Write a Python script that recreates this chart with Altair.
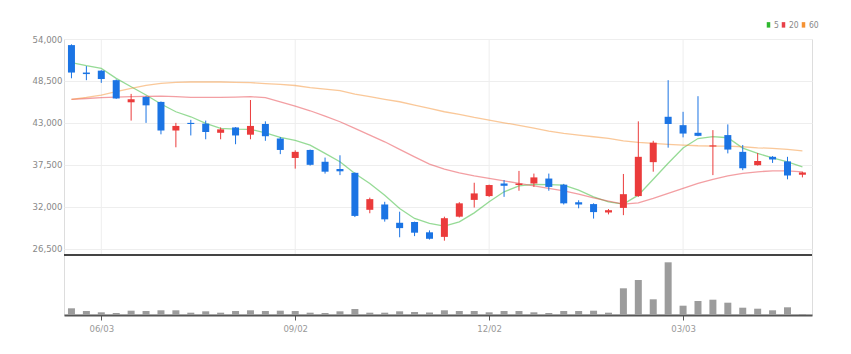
import altair as alt
import pandas as pd
from datetime import date, timedelta

FONT = "Liberation Sans Narrow, DejaVu Sans Condensed, Roboto Condensed, Roboto, sans-serif"
RED = "#eb3b3b"
BLUE = "#1b74e4"

start = date(2024, 5, 20)
dates = [(start + timedelta(weeks=i)).isoformat() + "T00:00:00" for i in range(50)]

opens = [53200, 49600, 49850, 48600, 45700, 46400, 45750, 42000, 43000, 42900,
         41700, 42400, 41450, 42850, 40950, 38400, 39450, 37900, 36950, 36450,
         31600, 32300, 29900, 30000, 28650, 28050, 30700, 32900, 33400, 35050,
         34850, 35050, 35700, 34900, 32600, 32350, 31250, 31850, 33400, 37850,
         43800, 42700, 41700, 39900, 41400, 39200, 37450, 38550, 37950, 36200]
highs = [53300, 50450, 49900, 48700, 46800, 46500, 45800, 43000, 43400, 43300,
         42400, 42450, 46000, 43200, 41150, 39400, 39500, 38450, 38750, 36500,
         33200, 32650, 31350, 30050, 28900, 30700, 32600, 35150, 34900, 35500,
         36700, 36350, 36350, 35000, 32850, 32450, 31700, 36300, 43200, 40650,
         48600, 44450, 46500, 42050, 42800, 40100, 39050, 38650, 38550, 36600]
lows = [48850, 48600, 48250, 46150, 43300, 43000, 41500, 39800, 41350, 40850,
        40850, 40200, 40850, 40650, 38900, 37000, 37400, 36350, 36150, 30650,
        31150, 30050, 28000, 28150, 27700, 27550, 30600, 31900, 33300, 33300,
        34100, 34600, 34100, 32300, 31800, 30450, 31000, 30900, 33300, 36600,
        39750, 41100, 41250, 36150, 39000, 36800, 37400, 37750, 35600, 35850]
closes = [49600, 49400, 48750, 46200, 46100, 45300, 42000, 42600, 42850, 41800,
          42150, 41350, 42600, 41250, 39450, 39200, 37500, 36600, 36650, 30800,
          33000, 30350, 29200, 28600, 27800, 30500, 32450, 33750, 34850, 34750,
          35050, 35850, 34600, 32450, 32300, 31300, 31550, 33650, 38550, 40400,
          42850, 41600, 41300, 40050, 39500, 37050, 38000, 38200, 36100, 36500]
volumes = [670, 400, 270, 200, 430, 400, 470, 470, 230, 370,
           230, 400, 470, 400, 430, 400, 230, 200, 370, 600,
           230, 230, 370, 300, 250, 470, 400, 400, 270, 400,
           400, 270, 200, 400, 400, 430, 230, 2670, 3500, 1570,
           5270, 930, 1400, 1530, 1230, 730, 630, 470, 770, 100]

ma5 = [50900, 50500, 50150, 48840, 47740, 46650, 45470, 44460, 43800, 42930,
       42280, 42190, 42150, 41700, 41100, 40700, 40090, 39000, 37900, 36370,
       35060, 33520, 31780, 30465, 29810, 29455, 30020, 31200, 32650, 33960,
       34745, 34925, 34900, 34830, 34180, 33300, 32650, 32340, 33520, 35600,
       37700, 39700, 40950, 41200, 41050, 39700, 39000, 38400, 37900, 37240]
ma20 = [46085, 46200, 46300, 46380, 46430, 46480, 46520, 46430, 46345, 46345,
        46345, 46390, 46430, 46300, 45770, 45200, 44590, 43890, 43150, 42280,
        41400, 40520, 39520, 38550, 37590, 36940, 36450, 36060, 35715, 35400,
        35060, 34745, 34400, 34090, 33650, 33170, 32740, 32340, 32520, 33090,
        33745, 34400, 35060, 35585, 36060, 36370, 36585, 36715, 36715, 36585]
ma60 = [46085, 46345, 46650, 47085, 47530, 47920, 48180, 48310, 48360, 48360,
        48360, 48320, 48270, 48160, 48050, 47900, 47610, 47440, 47220, 46780,
        46430, 46085, 45770, 45340, 44900, 44460, 44115, 43720, 43370, 43015,
        42670, 42320, 41925, 41620, 41400, 41180, 40965, 40650, 40440, 40310,
        40180, 40090, 40000, 39960, 39960, 39870, 39735, 39650, 39520, 39340]

ma_names = ["5", "20", "60"]
ma_colors = ["#2eb82e", "#e84048", "#f59233"]

y_ticks = [26500, 32000, 37500, 43000, 48500, 54000]
x_ticks = [alt.DateTime(year=2024, month=6, date=3), alt.DateTime(year=2024, month=9, date=2),
           alt.DateTime(year=2024, month=12, date=2), alt.DateTime(year=2025, month=3, date=3)]
x_tick_dates = ["2024-06-03T00:00:00", "2024-09-02T00:00:00",
                "2024-12-02T00:00:00", "2025-03-03T00:00:00"]

W, H = 748, 276
PRICE_H = 216

df = pd.DataFrame({"date": dates, "open": opens, "high": highs, "low": lows,
                   "close": closes, "vol": volumes})
ma_rows = []
for name, series in zip(ma_names, [ma5, ma20, ma60]):
    for d, v in zip(dates, series):
        ma_rows.append({"date": d, "ma": name, "value": v})
ma_df = pd.DataFrame(ma_rows)
grid_df = pd.DataFrame({"date": x_tick_dates})

xscale = alt.Scale(domain=[alt.DateTime(year=2024, month=5, date=16, hours=12),
                           alt.DateTime(year=2025, month=5, date=2, hours=12)],
                   nice=False, padding=0)
xaxis = alt.Axis(values=x_ticks, format="%m/%d", grid=False, domainColor="#555",
                 domainWidth=2, tickColor="#555", tickSize=5, labelColor="#999",
                 labelFontSize=9.5, labelPadding=3, labelFont=FONT, title=None)
X = alt.X("date:T", scale=xscale, axis=xaxis)

yscale = alt.Scale(domain=[25674, 54000], range=[PRICE_H, 0], nice=False, zero=False)
yaxis = alt.Axis(values=y_ticks, format=",.0f", grid=True, gridColor="#eeeeee", domain=False,
                 ticks=False, labelColor="#888", labelFontSize=9.5, labelPadding=2,
                 labelFont=FONT, title=None)

updown = alt.when(alt.datum.close >= alt.datum.open).then(alt.value(RED)).otherwise(alt.value(BLUE))

grid = alt.Chart(grid_df).mark_rule(color="#eeeeee", strokeWidth=1).encode(
    x=X, y=alt.value(0), y2=alt.value(PRICE_H))

lines = alt.Chart(ma_df).mark_line(strokeWidth=1.3, opacity=0.5).encode(
    x=X,
    y=alt.Y("value:Q", scale=yscale, axis=yaxis),
    color=alt.Color("ma:N", scale=alt.Scale(domain=ma_names, range=ma_colors),
                    legend=alt.Legend(title=None, orient="none", legendX=700, legendY=-19,
                                      direction="horizontal", symbolType="M0,-1L0,1",
                                      symbolSize=30, symbolStrokeWidth=3.5, symbolOpacity=1,
                                      labelFontSize=8.5, labelColor="#888", labelFont=FONT,
                                      labelOffset=1, columnPadding=-5, padding=0)),
)

wick = alt.Chart(df).mark_rule(strokeWidth=1).encode(
    x=X, y=alt.Y("low:Q", scale=yscale, axis=yaxis), y2="high:Q", color=updown)
body = alt.Chart(df).mark_bar(size=7).encode(
    x=X, y=alt.Y("open:Q", scale=yscale, axis=yaxis), y2="close:Q", color=updown)

price = alt.layer(grid, lines, wick, body)

vol = alt.Chart(df).mark_bar(size=7, color="#9c9c9c").encode(
    x=X, y=alt.Y("vol:Q", scale=alt.Scale(domain=[0, 6000], range=[H, PRICE_H]), axis=None))

sep = alt.Chart(pd.DataFrame({"a": [0]})).mark_rule(color="#444", strokeWidth=2).encode(
    x=alt.value(0), x2=alt.value(W), y=alt.value(PRICE_H))

chart = alt.layer(price, vol, sep).resolve_scale(y="independent").properties(
    width=W, height=H,
    autosize=alt.AutoSizeParams(type="none"),
    padding={"left": 64, "top": 39, "right": 39, "bottom": 39},
).configure_view(stroke=None).configure(background="white")

chart.save("out.html", embed_options={"renderer": "svg", "actions": False})
